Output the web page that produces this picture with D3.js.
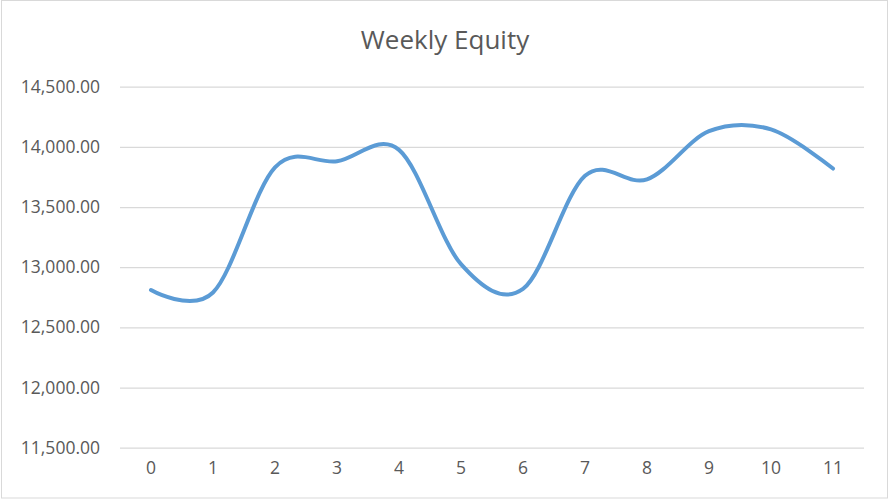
<!DOCTYPE html>
<html>
<head>
<meta charset="utf-8">
<script src="https://cdn.jsdelivr.net/npm/d3@7"></script>
<style>
  html, body { margin: 0; padding: 0; background: #fff; }
  svg { display: block; }
</style>
</head>
<body>
<svg id="chart" width="890" height="500"></svg>
<script>
const title = "Weekly Equity";
const categories = ["0","1","2","3","4","5","6","7","8","9","10","11"];
const equity = [12810, 12790, 13830, 13880, 13975, 13025, 12820, 13760, 13730, 14130, 14145, 13820];
const yTicks = [11500, 12000, 12500, 13000, 13500, 14000, 14500];

const svg = d3.select("#chart");
const W = 890, H = 500;
const margin = { left: 120, right: 26, top: 86.7, bottom: 52.3 };

// chart border
svg.append("rect")
  .attr("x", 1.5).attr("y", 0.5).attr("width", W - 4).attr("height", H - 2.5)
  .attr("fill", "#fff").attr("stroke", "#d9d9d9").attr("stroke-width", 1);

const x = d3.scaleBand().domain(categories).range([margin.left, W - margin.right]);
const y = d3.scaleLinear().domain([11500, 14500]).range([H - margin.bottom, margin.top]);

const font = "'Open Sans', 'Liberation Sans', sans-serif";

// gridlines + y labels
const yAxis = d3.axisLeft(y).tickValues(yTicks)
  .tickSize(-(W - margin.left - margin.right))
  .tickPadding(20)
  .tickFormat(d3.format(",.2f"));
const gy = svg.append("g").attr("transform", `translate(${margin.left},0)`).call(yAxis);
gy.select(".domain").remove();
gy.selectAll(".tick line").attr("stroke", "#d9d9d9").attr("stroke-width", 1.3);
gy.selectAll(".tick text")
  .attr("fill", "#595959").attr("font-family", font).attr("font-size", 17.5);

const xAxis = d3.axisBottom(x).tickSize(0).tickPadding(14);
const gx = svg.append("g").attr("transform", `translate(0,${H - margin.bottom})`).call(xAxis);
gx.select(".domain").remove();
gx.selectAll(".tick text")
  .attr("fill", "#595959").attr("font-family", font).attr("font-size", 17.5);

// line
const line = d3.line()
  .x((d, i) => x(categories[i]) + x.bandwidth() / 2)
  .y(d => y(d))
  .curve(d3.curveCatmullRom.alpha(0));

svg.append("path")
  .datum(equity)
  .attr("d", line)
  .attr("fill", "none")
  .attr("stroke", "#5b9bd5")
  .attr("stroke-width", 4)
  .attr("stroke-linecap", "round")
  .attr("stroke-linejoin", "round");

// title
svg.append("text")
  .attr("x", 445).attr("y", 49)
  .attr("text-anchor", "middle")
  .attr("fill", "#595959")
  .attr("font-family", font)
  .attr("font-size", 26)
  .text(title);
</script>
</body>
</html>
